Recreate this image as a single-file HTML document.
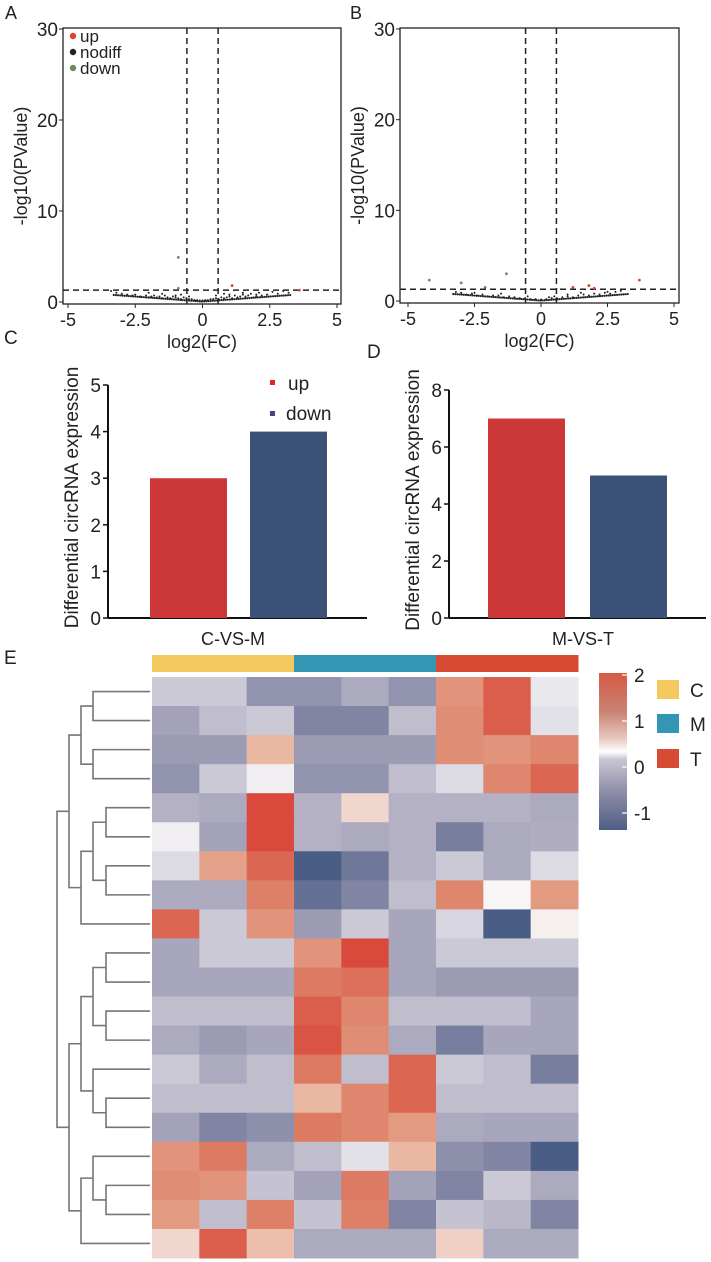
<!DOCTYPE html>
<html><head><meta charset="utf-8"><style>
html,body{margin:0;padding:0;background:#fff}
svg{display:block;font-family:"Liberation Sans",Arial,sans-serif}
</style></head><body>
<svg id="s" width="711" height="1262" viewBox="0 0 711 1262" xmlns="http://www.w3.org/2000/svg"></svg>
<script>
const NS="http://www.w3.org/2000/svg";
const S=document.getElementById('s');
function el(tag,attrs,parent,text){const e=document.createElementNS(NS,tag);for(const k in attrs)e.setAttribute(k,attrs[k]);if(text!==undefined)e.textContent=text;(parent||S).appendChild(e);return e;}

// ---------- data ----------
const volcanoXTicks=[-5,-2.5,0,2.5,5];
const volcanoXTickLabels=["-5","-2.5","0","2.5","5"];
const volcanoYTicks=[0,10,20,30];
const fcCut=0.58, pCut=1.3;
const volcAx=[-3.4,-3.2,-3,-2.8,-2.6,-2.5,-2.3,-2.1,-2,-1.9,-1.8,-1.7,-1.6,-1.5,-1.4,-1.3,-1.2,-1.1,-1,-0.9,-0.8,-0.7,-0.6,-0.5,-0.4,-0.3,-0.2,-0.1,0,0.1,0.2,0.3,0.4,0.5,0.6,0.7,0.8,0.9,1,1.1,1.2,1.3,1.4,1.5,1.6,1.7,1.8,1.9,2,2.1,2.2,2.4,2.6,2.8,3,3.2,-1.5,-1,-0.5,0.5,1,1.5,2,-2,-0.8,0.8];
const volcAy=[1.1,0.9,0.8,0.7,0.6,0.7,0.5,0.6,0.4,0.5,0.6,0.4,0.5,0.3,0.6,0.4,0.3,0.5,0.4,0.3,0.2,0.4,0.3,0.2,0.2,0.1,0.1,0.05,0.05,0.1,0.1,0.2,0.2,0.3,0.2,0.4,0.3,0.4,0.5,0.3,0.6,0.4,0.5,0.7,0.5,0.6,0.8,0.4,0.7,0.9,0.6,0.7,1.0,0.8,1.1,0.9,0.8,0.6,0.5,0.6,0.7,0.9,0.5,0.9,0.7,0.8];
const volcAUpX=[1.1,3.6], volcAUpY=[1.8,1.3];
const volcADownX=[-0.9,-0.9], volcADownY=[4.9,1.5];
const volcBx=[-3.2,-3,-2.8,-2.6,-2.4,-2.2,-2,-1.8,-1.6,-1.4,-1.2,-1,-0.8,-0.6,-0.4,-0.2,0,0.2,0.4,0.6,0.8,1,1.2,1.4,1.6,1.8,2,2.2,2.4,2.6,2.8,3,-1.5,-0.5,0.5,1.5,2.5,-2.5,1,0.3];
const volcBy=[0.9,0.8,0.6,0.7,0.5,0.6,0.4,0.5,0.5,0.3,0.4,0.3,0.2,0.2,0.1,0.1,0.05,0.1,0.2,0.2,0.3,0.4,0.3,0.5,0.6,0.5,0.7,0.6,0.8,0.7,0.9,1.0,0.7,0.4,0.4,0.8,0.9,0.8,0.6,0.3];
const volcBUpX=[1.2,1.8,2.0,3.7], volcBUpY=[1.5,1.7,1.4,2.3];
const volcBDownX=[-1.3,-4.2,-3.0,-2.1], volcBDownY=[3.0,2.3,2.0,1.5];

const barCats=["up","down"];
const barC=[3,4];
const barD=[7,5];
const barCTicks=[0,1,2,3,4,5];
const barDTicks=[0,2,4,6,8];

const heatGroups=["C","C","C","M","M","M","T","T","T"];
const heat=[
[-0.3,-0.3,-0.9,-0.9,-0.6,-0.9,1.1,1.8,-0.05],
[-0.7,-0.4,-0.3,-1.1,-1.1,-0.4,1.2,1.8,-0.1],
[-0.8,-0.8,0.6,-0.8,-0.8,-0.8,1.2,1.1,1.3],
[-0.9,-0.3,0.0,-0.9,-0.9,-0.4,-0.15,1.3,1.7],
[-0.5,-0.6,2.0,-0.5,0.3,-0.5,-0.5,-0.5,-0.6],
[0.0,-0.7,2.0,-0.5,-0.6,-0.5,-1.2,-0.6,-0.55],
[-0.15,0.9,1.7,-1.7,-1.3,-0.5,-0.3,-0.6,-0.15],
[-0.6,-0.6,1.4,-1.4,-1.1,-0.4,1.3,0.05,1.0],
[1.7,-0.3,1.1,-0.8,-0.3,-0.65,-0.2,-1.7,0.1],
[-0.65,-0.3,-0.3,1.1,2.0,-0.65,-0.3,-0.3,-0.3],
[-0.65,-0.65,-0.65,1.5,1.6,-0.65,-0.8,-0.8,-0.8],
[-0.4,-0.4,-0.4,1.8,1.3,-0.4,-0.4,-0.4,-0.65],
[-0.6,-0.8,-0.65,1.9,1.2,-0.6,-1.2,-0.65,-0.65],
[-0.3,-0.6,-0.4,1.5,-0.4,1.7,-0.3,-0.4,-1.2],
[-0.4,-0.4,-0.4,0.6,1.3,1.7,-0.4,-0.4,-0.4],
[-0.7,-1.1,-0.95,1.5,1.3,1.0,-0.6,-0.65,-0.65],
[1.1,1.5,-0.6,-0.4,-0.1,0.6,-0.95,-1.1,-1.7],
[1.2,1.1,-0.35,-0.7,1.5,-0.7,-1.1,-0.3,-0.6],
[1.0,-0.4,1.4,-0.35,1.4,-1.1,-0.35,-0.45,-1.1],
[0.3,1.8,0.5,-0.6,-0.6,-0.6,0.35,-0.6,-0.6]];
const legendTicks=[2,1,0,-1];

// ---------- helpers ----------
function text(x,y,t,size,anchor,name,extra){const a={x:x,y:y,'font-size':size,'text-anchor':anchor||'start',fill:'#222'};Object.assign(a,extra||{});const e=el('text',a,S,t);return e;}

// ---------- volcano ----------
function volcano(o){
  const sx=v=>o.x0+(v+5)/10*(o.x1-o.x0);
  const sy=v=>o.y0-(v)/30*(o.y0-o.y30);
  const g=el('g',{});
  const fr=el('rect',{x:o.bl,y:o.bt,width:o.br-o.bl,height:o.bb-o.bt,fill:'none',stroke:'#222','stroke-width':1.3},g);
  
  volcanoYTicks.forEach(t=>{const y=sy(t);el('line',{x1:o.bl-4,x2:o.bl,y1:y,y2:y,stroke:'#222'},g);
    const tt=el('text',{x:o.bl-5,y:y+7,'font-size':19,'text-anchor':'end',fill:'#222'},g,String(t));});
  volcanoXTicks.forEach((t,i)=>{const x=sx(t);el('line',{x1:x,x2:x,y1:o.bb,y2:o.bb+4,stroke:'#222'},g);
    const tt=el('text',{x:x,y:o.bb+22,'font-size':18,'text-anchor':'middle',fill:'#222'},g,volcanoXTickLabels[i]);});
  const dash={stroke:'#222','stroke-width':1.5,'stroke-dasharray':'6,4'};
  [-fcCut,fcCut].forEach(v=>{const l=el('line',Object.assign({x1:sx(v),x2:sx(v),y1:o.bt,y2:o.bb},dash),g);});
  const hl=el('line',Object.assign({x1:o.bl,x2:o.br,y1:sy(pCut),y2:sy(pCut)},dash),g);
  o.nx.forEach((v,i)=>{const c=el('circle',{cx:sx(v),cy:sy(o.ny[i])-1,r:1,fill:'#222'},g);});
  for(let v=-3.3;v<=3.3;v+=0.08){const yy=0.05+Math.abs(v)*0.22;const c=el('circle',{cx:sx(v),cy:sy(yy),r:1.1,fill:'#222'},g);}
  o.ux.forEach((v,i)=>{const c=el('circle',{cx:sx(v),cy:sy(o.uy[i]),r:1.4,fill:'#e0402c'},g);});
  o.dx.forEach((v,i)=>{const c=el('circle',{cx:sx(v),cy:sy(o.dy[i]),r:1.4,fill:'#6f8a5e'},g);});
  const yl=el('text',{x:0,y:0,'font-size':18,'text-anchor':'middle',fill:'#222',transform:`translate(${o.bl-36},${(o.bt+o.bb)/2}) rotate(-90)`},g,'-log10(PValue)');
  const xl=el('text',{x:(o.bl+o.br)/2,y:o.bb+44,'font-size':18,'text-anchor':'middle',fill:'#222'},g,'log2(FC)');
}
volcano({name:'volcano-a',bl:63,br:341,bt:28,bb:304,x0:68,x1:337,y0:302,y30:29,nx:volcAx,ny:volcAy,ux:volcAUpX,uy:volcAUpY,dx:volcADownX,dy:volcADownY});
volcano({name:'volcano-b',bl:400,br:679,bt:28,bb:303,x0:408,x1:674,y0:301,y30:29,nx:volcBx,ny:volcBy,ux:volcBUpX,uy:volcBUpY,dx:volcBDownX,dy:volcBDownY});
text(5,19,'A',18,'start','panel-label-a');
text(350,19,'B',18,'start','panel-label-b');
[['up','#e0402c',41],['nodiff','#222',57],['down','#6f8a5e',73]].forEach(l=>{
  const c=el('circle',{cx:73,cy:l[2]-5,r:3.2,fill:l[1]});
  text(80,l[2]+1,l[0],17,'start','legend-entry-'+l[0]);
});

// ---------- bar charts ----------
function bars(o){
  const sy=v=>o.y0-v/o.max*(o.y0-o.ytop);
  const g=el('g',{});
  el('line',{x1:o.ax,x2:o.ax,y1:sy(o.max),y2:o.y0,stroke:'#111','stroke-width':2},g);
  el('line',{x1:o.ax,x2:o.xend,y1:o.y0,y2:o.y0,stroke:'#111','stroke-width':2},g);
  o.ticks.forEach(t=>{const y=sy(t);el('line',{x1:o.ax-5,x2:o.ax,y1:y,y2:y,stroke:'#111','stroke-width':1.5},g);
    const tt=el('text',{x:o.ax-7,y:y+7,'font-size':19,'text-anchor':'end',fill:'#222'},g,String(t));});
  const cols=['#cc3737','#3a5278'];
  o.vals.forEach((v,i)=>{const r=el('rect',{x:o.bx[i],y:sy(v),width:o.bw,height:o.y0-sy(v),fill:cols[i]},g);});
  const yl=el('text',{x:0,y:0,'font-size':19,'text-anchor':'middle',fill:'#222',transform:`translate(${o.ax-30},${(o.y0+sy(o.max))/2-4}) rotate(-90)`},g,'Differential circRNA expression');
  const xl=el('text',{x:o.lx,y:645,'font-size':18,'text-anchor':'middle',fill:'#222'},g,o.label);
}
bars({name:'bar-chart-c',ax:108,xend:367,y0:618,ytop:385,max:5,ticks:barCTicks,vals:barC,bx:[150,250],bw:77,lx:233,label:'C-VS-M'});
bars({name:'bar-chart-d',ax:449,xend:706,y0:618,ytop:390,max:8,ticks:barDTicks,vals:barD,bx:[488,590],bw:77,lx:583,label:'M-VS-T'});
text(4,344,'C',19,'start','panel-label-c');
text(367,358,'D',19,'start','panel-label-d');
el('rect',{x:270,y:380,width:5,height:5,fill:'#e0262b'});
text(288,390,'up',19,'start','legend-entry-up');
el('rect',{x:270,y:411,width:5,height:5,fill:'#3a4a80'});
text(286,420,'down',19,'start','legend-entry-down');

// ---------- heatmap ----------
const stops=[[-1.7,[74,93,133]],[-1,[138,140,168]],[-0.5,[180,177,196]],[-0.1,[226,225,232]],[0.05,[247,245,246]],[0.5,[236,190,172]],[1,[226,154,129]],[1.5,[221,122,98]],[2,[217,74,60]]];
function color(v){if(v<=stops[0][0])return 'rgb('+stops[0][1]+')';for(let i=1;i<stops.length;i++){if(v<=stops[i][0]){const a=stops[i-1],b=stops[i],t=(v-a[0])/(b[0]-a[0]);return 'rgb('+a[1].map((c,k)=>Math.round(c+(b[1][k]-c)*t)).join(',')+')';}}return 'rgb('+stops[stops.length-1][1]+')';}
const hx=152,hy=677,cw=(578-152)/9,rh=(1258-677)/20;
const groupCol={C:'#f3c95f',M:'#3396b3',T:'#d84a34'};
text(4,664,'E',19,'start','panel-label-e');
heatGroups.forEach((gname,j)=>{const r=el('rect',{x:hx+j*cw,y:655,width:cw+0.5,height:17,fill:groupCol[gname]});});
heat.forEach((row,i)=>row.forEach((v,j)=>{const r=el('rect',{x:hx+j*cw,y:hy+i*rh,width:cw+0.5,height:rh+0.5,fill:color(v)});}));
// dendrogram
{
const rc=i=>hy+rh*(i+0.5);
const dg=el('g',{fill:'none',stroke:'#7a7474','stroke-width':1.6});
const join=(ya,xa,yb,xb,x)=>{el('path',{d:`M${xa},${ya}H${x}V${yb}H${xb}`},dg);return (ya+yb)/2;};
const L=150;
let a=join(rc(0),L,rc(1),L,93),b=join(rc(2),L,rc(3),L,93);const g1=join(a,93,b,93,81);
a=join(rc(4),L,rc(5),L,106);b=join(rc(6),L,rc(7),L,106);let c=join(a,106,b,106,93);const g2=join(c,93,rc(8),L,81);
const dTop=join(g1,81,g2,81,69);
a=join(rc(9),L,rc(10),L,106);b=join(rc(11),L,rc(12),L,106);c=join(a,106,b,106,93);
let d=join(rc(14),L,rc(15),L,106);let e=join(rc(13),L,d,106,93);const g3=join(c,93,e,93,81);
d=join(rc(17),L,rc(18),L,106);e=join(rc(16),L,d,106,93);const g4=join(e,93,rc(19),L,81);
const dBot=join(g3,81,g4,81,69);
join(dTop,69,dBot,69,57);
}
// color legend
const defs=el('defs',{});const lg=el('linearGradient',{id:'lg',x1:0,y1:0,x2:0,y2:1},defs);
[[0,'#d65a44'],[0.25,'#c98474'],[0.42,'#e8c9c0'],[0.5,'#ffffff'],[0.55,'#c9c6d3'],[0.75,'#8f8fa9'],[1,'#4e5e86']].forEach(s=>el('stop',{offset:s[0],'stop-color':s[1]},lg));
const cb=el('rect',{x:599,y:673,width:28,height:157,fill:'url(#lg)'});
legendTicks.forEach(t=>{const y=767-t*46;el('line',{x1:622,x2:628,y1:y,y2:y,stroke:'#fff','stroke-width':1.2});text(634,y+7,String(t),19,'start','color-scale-tick');});
[['C',680],['M',714],['T',749]].forEach(l=>{const r=el('rect',{x:657,y:l[1],width:22,height:19,fill:groupCol[l[0]]});text(690,l[1]+17,l[0],19,'start','group-legend-label-'+l[0]);});
</script>
</body></html>
